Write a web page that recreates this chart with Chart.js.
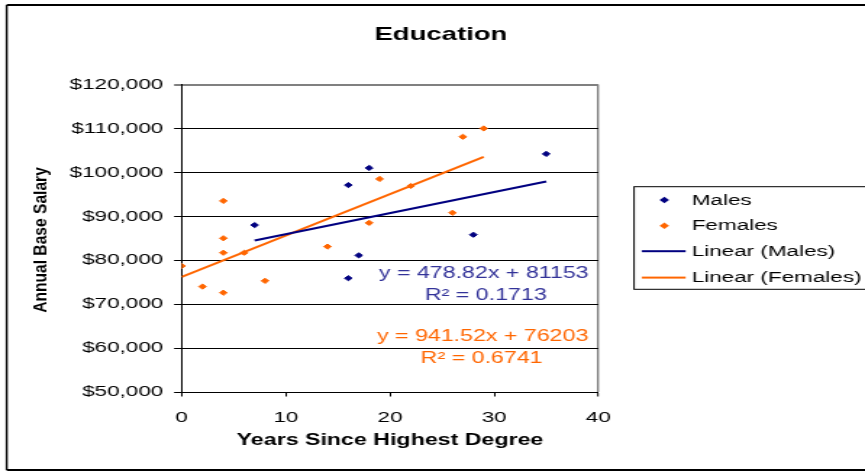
<!DOCTYPE html>
<html>
<head>
<meta charset="utf-8">
<title>Education</title>
<script src="https://cdn.jsdelivr.net/npm/chart.js@4/dist/chart.umd.min.js"></script>
<style>
html, body { margin: 0; padding: 0; background: #fff; }
</style>
</head>
<body>
<!-- drawn narrow, then stretched sideways like the original picture -->
<canvas id="educationChart" width="597" height="471" style="display:block;width:865px;height:471px;"></canvas>
<script>
const maleYears = [7, 16, 16, 17, 18, 28, 35];
const maleSalary = [88000, 97100, 75900, 81100, 101000, 85800, 104200];
const femaleYears = [0, 2, 4, 4, 4, 4, 6, 8, 14, 18, 19, 22, 26, 27, 29];
const femaleSalary = [78700, 74000, 93500, 85000, 81700, 72600, 81700, 75300, 83100, 88500, 98500, 96900, 90800, 108100, 110000];

const trendSlopes = [478.82, 941.52];
const trendIntercepts = [81153, 76203];
const trendRSquared = [0.1713, 0.6741];
const trendRanges = [[7, 35], [0, 29]];

const seriesNames = ['Males', 'Females', 'Linear (Males)', 'Linear (Females)'];
const yTickValues = [50000, 60000, 70000, 80000, 90000, 100000, 110000, 120000];
const xTickValues = [0, 10, 20, 30, 40];

const FONT = "'Liberation Sans', Arial, sans-serif";
const NAVY = '#000080';
const ORANGE = '#ff6600';

function toPoints(xs, ys) {
    return xs.map((x, i) => ({ x: x, y: ys[i] }));
}

function trendPoints(i) {
    return trendRanges[i].map(x => ({ x: x, y: trendSlopes[i] * x + trendIntercepts[i] }));
}

function money(v) {
    return '$' + v.toLocaleString('en-US');
}

// frame, title, axis title, equations and legend box
const decorPlugin = {
    id: 'decor',
    afterDraw(chart) {
        const ctx = chart.ctx;
        const xs = chart.scales.x;
        const ys = chart.scales.y;
        ctx.save();

        // outer frame
        ctx.strokeStyle = '#000';
        ctx.lineWidth = 2;
        ctx.beginPath();
        ctx.moveTo(4.6, 5); ctx.lineTo(chart.width + 5, 5);
        ctx.moveTo(4.6, 470); ctx.lineTo(chart.width + 5, 470);
        ctx.stroke();
        ctx.lineWidth = 1.4;
        ctx.beginPath();
        ctx.moveTo(4.6, 5); ctx.lineTo(4.6, 470);
        ctx.stroke();

        // title
        ctx.fillStyle = '#000';
        ctx.font = 'bold 19px ' + FONT;
        ctx.textAlign = 'center';
        ctx.textBaseline = 'middle';
        ctx.fillText('Education', 304.3, 34.5);

        // y axis title, squeezed like the source
        ctx.save();
        ctx.translate(28.6, 240);
        ctx.rotate(-Math.PI / 2);
        ctx.scale(1, 0.82);
        ctx.font = 'bold 15.6px ' + FONT;
        ctx.fillText('Annual Base Salary', 0, 0);
        ctx.restore();

        // trend equations
        const eqColors = ['#333399', ORANGE];
        const eqAnchor = [[29.0, 77000, 29.2, 72000], [28.9, 62500, 28.8, 57500]];
        ctx.font = '16px ' + FONT;
        for (let i = 0; i < 2; i++) {
            const a = eqAnchor[i];
            ctx.fillStyle = eqColors[i];
            ctx.fillText('y = ' + trendSlopes[i] + 'x + ' + trendIntercepts[i],
                xs.getPixelForValue(a[0]), ys.getPixelForValue(a[1]));
            ctx.fillText('R\u00B2 = ' + trendRSquared[i],
                xs.getPixelForValue(a[2]), ys.getPixelForValue(a[3]));
        }

        // legend
        ctx.strokeStyle = '#000';
        ctx.lineWidth = 1;
        ctx.strokeRect(437.6, 186.7, 200, 102.6);
        const rows = [200, 225.7, 251.2, 277.6];
        ctx.font = '15.5px ' + FONT;
        ctx.textAlign = 'left';
        chart.data.datasets.forEach((ds, i) => {
            const y = rows[i];
            if (ds.showLine) {
                ctx.strokeStyle = ds.borderColor;
                ctx.lineWidth = 2;
                ctx.beginPath();
                ctx.moveTo(442.9, y);
                ctx.lineTo(473.2, y);
                ctx.stroke();
            } else {
                ctx.fillStyle = ds.backgroundColor;
                ctx.beginPath();
                ctx.moveTo(458.5, y - 3.3);
                ctx.lineTo(461.8, y);
                ctx.lineTo(458.5, y + 3.3);
                ctx.lineTo(455.2, y);
                ctx.closePath();
                ctx.fill();
            }
            ctx.fillStyle = '#000';
            ctx.fillText(ds.label, 477.4, y + 0.5);
        });

        ctx.restore();
    }
};

const ctx = document.getElementById('educationChart').getContext('2d');
const educationChart = new Chart(ctx, {
    type: 'scatter',
    data: {
        datasets: [{
            label: seriesNames[0],
            data: toPoints(maleYears, maleSalary),
            backgroundColor: NAVY,
            borderColor: NAVY,
            pointStyle: 'rectRot',
            pointRadius: 2.6,
            borderWidth: 1
        }, {
            label: seriesNames[1],
            data: toPoints(femaleYears, femaleSalary),
            backgroundColor: ORANGE,
            borderColor: ORANGE,
            pointStyle: 'rectRot',
            pointRadius: 2.6,
            borderWidth: 1
        }, {
            label: seriesNames[2],
            data: trendPoints(0),
            showLine: true,
            borderColor: NAVY,
            backgroundColor: NAVY,
            borderWidth: 2,
            pointRadius: 0
        }, {
            label: seriesNames[3],
            data: trendPoints(1),
            showLine: true,
            borderColor: ORANGE,
            backgroundColor: ORANGE,
            borderWidth: 2,
            pointRadius: 0
        }]
    },
    options: {
        responsive: false,
        animation: false,
        devicePixelRatio: 1,
        layout: {
            padding: { left: 0, top: 84.5, right: 184.1, bottom: 0 }
        },
        scales: {
            x: {
                type: 'linear',
                min: 0,
                max: 40,
                afterBuildTicks: s => { s.ticks = xTickValues.map(v => ({ value: v })); },
                afterFit: s => { s.height = 79; },
                ticks: {
                    autoSkip: false,
                    maxRotation: 0,
                    padding: 12,
                    color: '#000',
                    font: { family: FONT, size: 15.5 }
                },
                grid: {
                    color: c => (c.tick && c.tick.value === 40) ? '#808080' : 'rgba(0,0,0,0)',
                    lineWidth: c => (c.tick && c.tick.value === 40) ? 1.4 : 1,
                    tickColor: '#000',
                    tickWidth: 1,
                    tickLength: 4.5
                },
                border: { color: '#000', width: 1 },
                title: {
                    display: true,
                    text: 'Years Since Highest Degree',
                    color: '#000',
                    font: { family: FONT, size: 16, weight: 'bold' },
                    padding: { top: 0, bottom: 21 }
                }
            },
            y: {
                min: 50000,
                max: 120000,
                afterBuildTicks: s => { s.ticks = yTickValues.map(v => ({ value: v })); },
                afterFit: s => { s.width = 125.4; },
                ticks: {
                    padding: 7.4,
                    color: '#000',
                    font: { family: FONT, size: 15.5 },
                    callback: v => money(v)
                },
                grid: {
                    color: c => (c.tick && c.tick.value === 120000) ? '#808080' : '#000',
                    lineWidth: c => (c.tick && c.tick.value === 120000) ? 2 : 1,
                    tickColor: '#000',
                    tickWidth: 1,
                    tickLength: 5.3
                },
                border: { color: '#000', width: 1 }
            }
        },
        plugins: {
            legend: { display: false },
            title: { display: false },
            tooltip: { enabled: false }
        }
    },
    plugins: [decorPlugin]
});
</script>
</body>
</html>
